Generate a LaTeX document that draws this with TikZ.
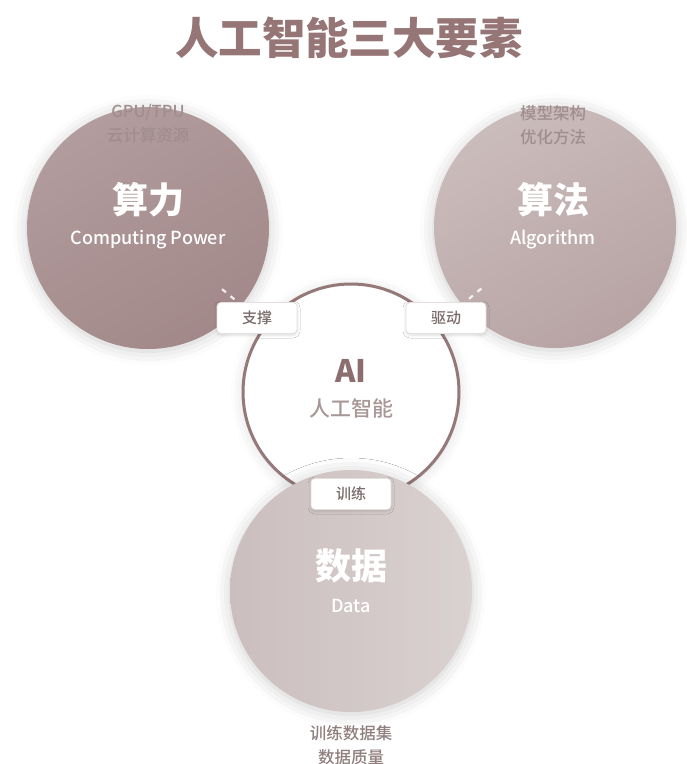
\documentclass[tikz,border=0pt]{standalone}
\usepackage{fontspec}
\setmainfont{Noto Sans CJK SC}
\newfontfamily\medfont{Noto Sans CJK SC Medium}
\usetikzlibrary{shadows.blur,calc}
\definecolor{titlec}{HTML}{957575}
\definecolor{ringc}{HTML}{957878}
\definecolor{aic}{HTML}{8C6E6E}
\definecolor{aisub}{HTML}{A99696}
\definecolor{smallc}{HTML}{A08E8E}
\definecolor{bottomc}{HTML}{8F7E7E}
\definecolor{tagc}{HTML}{7A6A6A}
\definecolor{tagborder}{HTML}{E6DFDF}
\definecolor{lA}{HTML}{B29C9D}
\definecolor{lB}{HTML}{A28889}
\definecolor{rA}{HTML}{CBBCBC}
\definecolor{rB}{HTML}{B7A3A3}
\definecolor{dA}{HTML}{CBBEBE}
\definecolor{dB}{HTML}{DAD1D1}
\tikzset{
  bigc/.style={circle, minimum size=242pt, inner sep=0pt, draw=none,
    blur shadow={shadow xshift=0pt, shadow yshift=-2pt, shadow blur radius=14pt, shadow opacity=20, shadow scale=1.0}},
  aicircle/.style={circle, minimum size=216pt, inner sep=0pt, draw=ringc, line width=3pt, fill=white,
    blur shadow={shadow xshift=0pt, shadow yshift=-2pt, shadow blur radius=12pt, shadow opacity=14, shadow scale=1.0}},
  tagbox/.style={rectangle, rounded corners=4pt, fill=white, draw=tagborder, line width=0.8pt,
    minimum width=80pt, minimum height=31pt, inner sep=0pt, text=tagc,
    font=\fontsize{15}{18}\medfont,
    blur shadow={shadow xshift=0pt, shadow yshift=-1.5pt, shadow blur radius=3pt, shadow opacity=14}},
  bigtxt/.style={text=white, font=\fontsize{36}{42}\selectfont\bfseries, inner sep=0pt},
  engtxt/.style={text=white, font=\fontsize{18}{22}\medfont, inner sep=0pt},
  smalltxt/.style={text=smallc, font=\fontsize{16.5}{24}\medfont, align=center, inner sep=0pt},
  linkdash/.style={white, line width=2.2pt, dash pattern=on 5pt off 6pt, opacity=0.85},
}
\begin{document}
\begin{tikzpicture}[x=1pt,y=-1pt]
\useasboundingbox (0,0) rectangle (687,764);
% title
\node[text=titlec, font=\fontsize{43.5}{50}\selectfont\bfseries, inner sep=0pt] (title) at (349,38) {人工智能三大要素};
% outer circles
\node[bigc, top color=lA, bottom color=lB, shading angle=30] (L) at (148,228) {};
\node[bigc, top color=rA, bottom color=rB, shading angle=30] (R) at (555,227) {};
% AI circle
\node[aicircle] (A) at (351,392) {};
% data circle
\node[bigc, left color=dA, right color=dB] (D) at (351,591) {};
% labels
\node[tagbox] (S) at (257,318) {支撑};
\node[tagbox] (Q) at (446,318) {驱动};
\node[tagbox] (T) at (351,494) {训练};
% dashed connectors
\draw[linkdash, shorten <=96pt, shorten >=24pt] (L.center) -- (S.center);
\draw[linkdash, shorten <=96pt, shorten >=24pt] (R.center) -- (Q.center);
% texts in circles
\node[bigtxt] (Lt) at (148,200) {算力};
\node[engtxt] (Le) at (148,240) {Computing Power};
\node[bigtxt] (Rt) at (553,200) {算法};
\node[engtxt] (Re) at (553,240) {Algorithm};
\node[bigtxt] (Dt) at (351,566) {数据};
\node[engtxt] (De) at (351,606) {Data};
\node[text=aic, font=\fontsize{31}{36}\selectfont\bfseries, inner sep=0pt] (At) at (351,371) {AI};
\node[text=aisub, font=\fontsize{21}{26}\medfont, inner sep=0pt] (As) at (351,408) {人工智能};
% small notes
\node[smalltxt] (Ln) at (148,124) {GPU/TPU\\云计算资源};
\node[smalltxt] (Rn) at (553,125) {模型架构\\优化方法};
\node[smalltxt, text=bottomc] (Dn) at (351,745) {训练数据集\\数据质量};
\end{tikzpicture}
\end{document}
